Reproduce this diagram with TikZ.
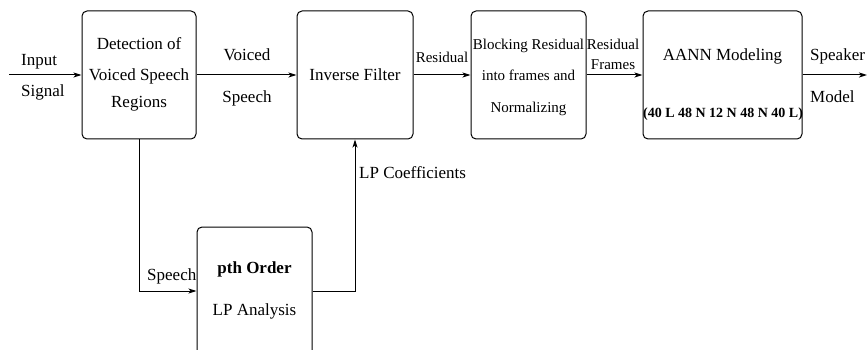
\documentclass[tikz,border=0pt]{standalone}
\usepackage{fontspec}
\setmainfont{Liberation Serif}
\newfontfamily\diagfont{Liberation Serif}
\usetikzlibrary{arrows.meta}
\begin{document}
\begin{tikzpicture}[x=1pt,y=-1pt,
  blockbox/.style={draw,line width=1pt,rounded corners=5pt,inner sep=0pt},
  txt/.style={inner sep=0pt,font=\diagfont\fontsize{17}{20}\selectfont},
  smalltxt/.style={inner sep=0pt,font=\diagfont\fontsize{15}{18}\selectfont},
  boldtxt/.style={inner sep=0pt,font=\diagfont\bfseries\fontsize{17}{20}\selectfont},
  flow/.style={line width=1pt,-{Stealth[length=8pt,width=5pt,inset=2pt]}},
  wire/.style={line width=1pt}]
\useasboundingbox (0,0) rectangle (867,350);
\clip (0,0) rectangle (867,350);

% processing blocks
\node[blockbox,minimum width=114pt,minimum height=128pt] (det) at (139,75) {};
\node[blockbox,minimum width=116pt,minimum height=128pt] (inv) at (355,75) {};
\node[blockbox,minimum width=115pt,minimum height=128pt] (blk) at (528.5,75) {};
\node[blockbox,minimum width=159pt,minimum height=128pt] (aann) at (722.5,75) {};
\node[blockbox,minimum width=115pt,minimum height=140pt] (lp) at (254.5,297) {};

% block texts
\node[txt,anchor=base] at (139,50) {Detection of};
\node[txt,anchor=base] at (139,81) {Voiced Speech};
\node[txt,anchor=base] at (139,108) {Regions};
\node[txt,anchor=base] at (355,81) {Inverse Filter};
\node[smalltxt,anchor=base] at (528.5,50) {Blocking Residual};
\node[smalltxt,anchor=base] at (528.5,81) {into frames and};
\node[smalltxt,anchor=base] at (528.5,113) {Normalizing};
\node[txt,anchor=base] at (722.5,61) {AANN Modeling};
\node[inner sep=0pt,anchor=base,font=\diagfont\bfseries\fontsize{14}{16}\selectfont] at (723,118) {(40 L 48 N 12 N 48 N 40 L)};
\node[boldtxt,anchor=base] at (254.5,273) {pth Order};
\node[txt,anchor=base] at (254.5,315) {LP Analysis};

% end points and routing levels
\coordinate (src) at (9,75);
\coordinate (dst) at (867,75);
\coordinate (lvl) at (0,291);

% connectors
\draw[flow] (src) -- (det.west);
\draw[flow] (det.east) -- (inv.west);
\draw[flow] (inv.east) -- (blk.west);
\draw[flow] (blk.east) -- (aann.west);
\draw[flow] (aann.east) -- (dst);
\draw[flow] (det.south) |- (lp.west |- lvl);
\draw[flow] (lp.east |- lvl) -| (inv.south);

% connector labels
\node[txt,anchor=base west] at (21,66) {Input};
\node[txt,anchor=base west] at (21,97) {Signal};
\node[txt,anchor=base] at (247,61) {Voiced};
\node[txt,anchor=base] at (247,103) {Speech};
\node[smalltxt,anchor=base] at (442,63) {Residual};
\node[smalltxt,anchor=base] at (613,50) {Residual};
\node[smalltxt,anchor=base] at (613,70) {Frames};
\node[txt,anchor=base west] at (810,61) {Speaker};
\node[txt,anchor=base west] at (810,103) {Model};
\node[txt,anchor=base west] at (359,178) {LP Coefficients};
\node[txt,anchor=base west] at (147,280) {Speech};
\end{tikzpicture}
\end{document}
